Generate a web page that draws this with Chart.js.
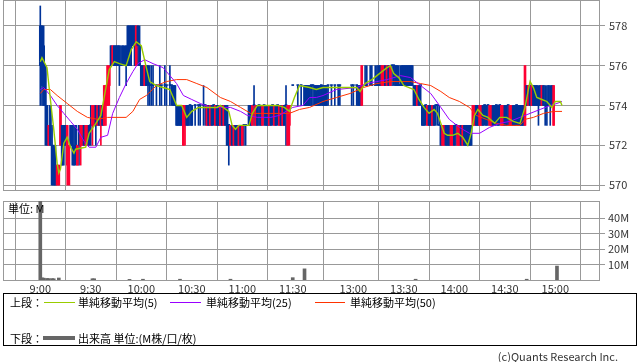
<!DOCTYPE html>
<html lang="ja">
<head>
<meta charset="utf-8">
<script src="https://cdn.jsdelivr.net/npm/chart.js@4.4.1/dist/chart.umd.min.js"></script>
<style>
  body { margin: 0; background: #fff; }
  #wrap { position: relative; width: 638px; height: 362px; overflow: hidden; font-family: 'Noto Sans CJK JP', 'Noto Sans', sans-serif; color: #000; }
  #price { position: absolute; left: 0; top: 0; }
  #vol { position: absolute; left: 0; top: 196px; }
  .txt { position: absolute; font-size: 11px; line-height: 14px; white-space: nowrap; }
  .swatch { position: absolute; }
  #legend { position: absolute; left: 3px; top: 293px; width: 634px; height: 53px; border: 1px solid #000; box-sizing: border-box; }
</style>
</head>
<body>
<div id="wrap">
  <canvas id="price" width="638" height="192"></canvas>
  <canvas id="vol" width="638" height="100"></canvas>
  <div class="txt" style="left:8px;top:201px;">単位: M</div>

  <div id="legend"></div>
  <div class="txt" style="left:10px;top:295px;">上段：</div>
  <div class="swatch" style="left:44px;top:302px;width:31px;height:1px;background:#99CC00;"></div>
  <div class="txt" style="left:78px;top:295px;">単純移動平均(5)</div>
  <div class="swatch" style="left:170px;top:302px;width:31px;height:1px;background:#9900FF;"></div>
  <div class="txt" style="left:206px;top:295px;">単純移動平均(25)</div>
  <div class="swatch" style="left:315px;top:302px;width:30px;height:1px;background:#FF3300;"></div>
  <div class="txt" style="left:350px;top:295px;">単純移動平均(50)</div>
  <div class="txt" style="left:10px;top:331px;">下段：</div>
  <div class="swatch" style="left:43px;top:336px;width:32px;height:4px;background:#666;"></div>
  <div class="txt" style="left:78px;top:331px;">出来高 単位:(M株/口/枚)</div>

  <div class="txt" style="right:20px;top:349px;color:#333;">(c)Quants Research Inc.</div>
</div>

<script>
// x axis is in "slots" (1 slot = 1 minute, lunch break squeezed)
const timeTickSlots = [0, 30, 60, 90, 120, 150, 186, 216, 246, 276, 306];
const timeTickLabels = ['9:00', '9:30', '10:00', '10:30', '11:00', '11:30', '13:00', '13:30', '14:00', '14:30', '15:00'];
const priceTicks = [570, 572, 574, 576, 578];
const volumeTicks = [10, 20, 30, 40];

// [slot, open, high, low, close]
const amCandles = [
  [0,578,579,574,576],[1,578,578,574,575],[2,577,578,574,574],[3,576,576,572,574],[4,574,574,572,572],
  [5,572,573,572,573],[6,574,574,572,572],[7,572,573,570,570],[8,572,572,570,570],[9,571,572,570,570],
  [10,570,571,570,571],[11,570,571,570,571],[12,572,574,572,574],[13,573,573,571,571],[14,573,573,571,572],
  [15,573,573,572,572],[16,571,573,570,573],[17,570,572,570,572],[18,573,573,572,572],[19,573,573,571,572],
  [20,572,573,571,571],[21,573,573,571,572],[22,571,572,571,572],[23,573,573,571,572],[24,572,573,571,573],
  [25,572,573,572,573],[26,573,573,572,572],[27,572,573,572,573],[28,572,573,572,573],[29,573,573,572,572],
  [30,573,574,572,573],[31,573,574,572,574],[32,573,574,573,574],[33,574,574,572,573],[34,573,574,573,574],
  [35,574,574,573,573],[36,573,574,572,574],[37,574,574,573,573],[38,573,575,573,575],[39,574,575,573,575],
  [40,574,576,574,576],[41,575,576,574,576],[42,577,577,576,576],[43,576,577,576,577],[44,577,577,576,576],
  [45,577,577,576,576],[46,577,577,576,576],[47,577,577,575,576],[48,576,577,576,576],[49,577,577,576,576],
  [50,576,577,576,576],[51,577,577,575,576],[52,578,578,576,576],[53,578,578,576,576],[54,578,578,576,577],
  [55,578,578,577,577],[56,578,578,576,577],[57,576,578,576,578],[58,578,578,576,577],[59,577,578,576,576],
  [60,576,576,575,575],[61,576,576,575,575],[62,575,576,575,576],[63,576,576,575,575],[64,576,576,574,575],
  [65,575,576,574,575],[66,575,576,574,575],[67,575,576,574,575],[69,575,575,574,575],[71,575,576,574,575],
  [72,575,575,574,575],[74,575,576,574,575],[75,575,575,574,575],[77,575,576,574,575],[78,575,575,574,575],
  [79,575,575,574,574],[80,575,575,574,574],[81,574,574,573,573],[82,574,574,573,573],[83,574,574,573,573],
  [84,574,574,573,573],[85,572,574,572,574],[86,573,574,572,574],[87,574,574,573,573],[88,574,574,573,573],
  [89,574,574,573,574],[90,574,574,573,573],[92,574,574,573,574],[94,574,574,573,574],[95,574,574,573,574],
  [97,574,575,573,574],[98,574,574,573,574],[99,573,574,573,574],[100,574,574,573,573],[101,573,574,573,574],
  [102,574,574,573,573],[103,574,574,573,574],[104,573,574,573,574],[105,574,574,573,573],[106,574,574,573,573],
  [107,573,574,573,574],[108,574,574,573,573],[109,573,574,573,574],[110,574,574,573,573],[111,574,574,572,572],
  [112,573,573,571,573],[113,572,573,572,573],[114,573,573,572,572],[115,572,573,572,573],[116,573,573,572,572],
  [117,573,573,572,572],[118,572,573,572,573],[119,573,573,572,572],[120,572,573,572,573],[121,573,573,572,573],
  [122,573,573,572,573],[124,574,574,573,573],[125,574,574,573,573],[126,573,574,573,574],[127,574,575,573,574],
  [128,573,574,573,574],[129,574,574,573,573],[130,574,574,573,574],[131,574,574,573,573],[132,573,574,573,574],
  [133,574,574,573,574],[134,574,574,573,573],[135,574,574,573,573],[136,573,574,573,574],[137,574,574,573,573],
  [138,574,574,573,574],[139,573,574,573,574],[140,574,574,573,573],[141,574,574,573,574],[142,573,574,573,574],
  [143,574,574,573,573],[144,573,574,573,574],[145,574,574,573,573],[146,574,575,572,574],[147,572,574,572,574],
  [148,573,574,572,574],[150,575,575,575,575]
];

const pmCandles = [
  [153,575,575,574,575],[155,575,575,574,575],[157,575,575,574,574],[158,575,575,574,574],[159,575,575,574,574],
  [160,575,575,574,574],[161,575,575,574,575],[162,575,575,574,575],[163,575,575,574,574],[164,575,575,574,574],
  [165,575,575,574,574],[166,575,575,574,574],[167,575,575,574,575],[168,575,575,574,574],[169,575,575,574,574],
  [170,575,575,574,574],[171,575,575,574,575],[173,575,575,574,575],[175,575,575,574,575],[177,575,575,574,575],
  [178,575,575,574,575],[185,575,575,574,575],[186,575,575,574,575],[188,575,575,574,575],[189,575,575,574,574],
  [190,575,575,574,574],[191,574,576,574,576],[193,575,576,575,575],[194,575,576,575,575],[196,575,576,575,575],
  [197,575,576,575,575],[199,575,576,575,575],[200,575,576,575,575],[201,576,576,575,575],[202,576,576,575,575],
  [203,575,576,575,576],[204,575,576,575,576],[205,576,576,575,575],[206,575,576,575,576],[207,576,576,575,575],
  [208,575,576,575,576],[209,576,576,575,576],[210,576,576,575,576],[211,576,576,575,575],[212,576,576,575,575],
  [213,575,576,575,575],[214,575,576,575,575],[215,576,576,575,575],[216,576,576,575,575],[217,576,576,575,575],
  [218,576,576,575,575],[219,576,576,575,575],[220,576,576,575,575],[221,576,576,575,575],[222,575,575,574,574],
  [223,575,575,574,574],[224,574,575,574,575],[225,575,575,574,574],[226,575,575,574,575],[227,574,574,573,573],
  [228,574,574,573,573],[229,574,574,573,574],[230,573,574,573,574],[231,574,574,573,573],[232,574,574,573,573],
  [233,573,574,573,574],[234,574,574,573,573],[235,574,574,573,574],[236,574,574,573,574],[237,573,574,573,573],
  [238,573,573,572,572],[239,572,573,572,573],[240,572,573,572,573],[241,573,573,572,572],[242,573,573,572,572],
  [243,573,573,572,572],[244,572,573,572,573],[245,572,573,572,573],[246,573,573,572,572],[247,573,573,572,573],
  [248,572,573,572,573],[249,572,573,572,573],[250,573,573,572,572],[251,572,573,572,573],[252,573,573,572,572],
  [253,573,573,572,572],[254,573,573,572,572],[255,573,573,572,572],[256,573,573,572,572],[257,573,574,573,574],
  [258,573,574,573,574],[259,574,574,573,573],[260,574,574,573,573],[261,573,574,573,574],[262,573,574,573,574],
  [263,574,574,573,573],[264,574,574,573,574],[265,574,574,573,573],[266,574,574,573,574],[267,573,574,573,574],
  [268,573,574,573,574],[269,574,574,573,573],[270,574,574,573,573],[271,574,574,573,574],[272,574,574,573,573],
  [273,574,574,573,574],[274,573,574,573,574],[275,573,574,573,574],[276,574,574,573,573],[277,574,574,573,573],
  [278,574,574,573,574],[279,573,574,573,574],[280,573,574,573,574],[281,574,574,573,573],[282,574,574,573,573],
  [283,574,574,573,574],[284,574,574,573,573],[285,574,574,573,573],[286,574,574,573,573],[287,574,574,573,573],
  [288,573,576,573,576],[289,575,575,574,574],[290,574,575,574,575],[291,575,575,574,574],[292,574,575,574,575],
  [293,575,575,574,574],[294,575,575,574,574],[295,575,575,574,574],[296,574,575,573,574],[297,575,575,574,574],
  [298,574,575,574,575],[299,575,575,574,574],[300,574,575,573,574],[301,574,575,573,574],[302,575,575,574,574],
  [303,574,575,573,574],[304,575,575,574,574],[305,573,575,573,575]
];

// moving averages: [slot, price]
const ma5 = [
  [0,576.2],[1,576.4],[4,575.9],[6,574.3],[8,572.8],[10,571.1],[11,570.6],[12,570.8],[14,572.1],[16,572.4],
  [18,571.9],[20,571.6],[21,571.8],[27,571.9],[29,572.6],[33,573.1],[36,573.5],[39,574.9],[41,575.8],[44,576.2],
  [47,576.1],[51,576.0],[54,576.8],[57,577.2],[60,577.0],[63,575.9],[65,575.2],[69,575.0],[73,574.9],[77,574.8],
  [81,574.0],[84,574.0],[87,573.4],[90,573.7],[94,573.9],[105,573.9],[107,574.0],[112,573.7],[114,573.0],[116,572.8],
  [118,573.0],[124,573.0],[126,573.6],[129,574.0],[137,574.0],[141,574.0],[145,573.9],[148,573.7],[151,574.4],[154,575.0],
  [160,574.9],[164,574.8],[168,574.9],[172,574.9],[188,574.9],[190,574.7],[193,575.1],[197,575.3],[200,575.5],[203,575.7],
  [206,575.9],[208,576.0],[210,575.6],[213,575.4],[216,575.0],[222,574.8],[225,574.3],[228,573.9],[231,573.6],[234,573.8],
  [236,573.6],[238,573.1],[240,572.6],[242,572.5],[245,572.5],[248,572.6],[251,572.4],[254,572.0],[256,572.6],[258,573.5],
  [260,573.8],[263,573.5],[266,573.4],[270,573.1],[273,573.4],[277,573.4],[281,573.2],[285,573.1],[288,573.9],[290,574.8],
  [291,575.2],[293,574.9],[295,574.4],[298,574.3],[301,574.2],[304,573.9],[306,574.2],[309,574.2],[310,574.0]
];
const ma25 = [
  [0,574.8],[2,574.9],[6,574.5],[10,574.0],[14,573.6],[18,573.2],[22,572.8],[26,572.2],[29,571.9],[33,571.9],
  [36,572.4],[40,572.5],[43,573.6],[47,574.4],[51,575.1],[55,575.7],[58,576.1],[62,576.3],[67,576.1],[73,575.9],
  [77,575.5],[81,575.1],[85,574.5],[90,574.3],[95,574.1],[101,573.9],[107,573.9],[113,573.9],[119,573.7],[123,573.5],
  [129,573.4],[137,573.4],[142,573.5],[146,573.7],[150,573.9],[156,574.0],[160,574.4],[164,574.4],[168,574.5],[176,574.8],
  [188,574.9],[194,575.1],[200,575.2],[206,575.3],[214,575.5],[220,575.4],[226,575.0],[232,574.6],[238,573.9],[243,573.3],
  [249,572.9],[255,572.6],[261,572.6],[267,572.9],[273,573.1],[279,573.2],[285,573.4],[291,573.6],[297,573.8],[303,574.0],
  [307,574.1],[310,574.2]
];
const ma50 = [
  [0,574.6],[2,574.8],[6,574.8],[10,574.5],[16,574.1],[22,573.7],[28,573.4],[34,573.3],[40,573.4],[45,573.4],
  [51,573.4],[55,573.7],[59,574.3],[63,574.5],[69,575.0],[75,575.2],[81,575.3],[87,575.3],[93,575.1],[99,574.9],
  [107,574.4],[113,574.2],[119,573.9],[125,573.6],[131,573.6],[137,573.6],[142,573.6],[148,573.6],[154,573.8],[160,573.9],
  [168,574.2],[176,574.4],[184,574.6],[192,574.9],[200,575.1],[208,575.2],[214,575.2],[220,575.2],[226,575.1],[232,575.0],
  [238,574.7],[243,574.4],[249,574.2],[255,573.9],[259,573.5],[265,573.3],[271,573.1],[277,573.0],[285,573.0],[288,573.3],
  [293,573.4],[299,573.6],[305,573.7],[310,573.7]
];

// volume in millions: [slot, value]
const volume = [
  [0,62],[1,1.4],[2,1.2],[4,1.0],[5,0.9],[7,0.9],[8,0.8],[11,1.3],[31,0.8],[32,0.8],
  [53,0.4],[61,0.5],[83,0.5],[113,0.5],[150,1.5],[157,7.2],[223,0.5],[289,0.5],[307,9.0]
];

const X_MIN = -22.16, X_MAX = 331.97;
const UP = '#FF0033', DOWN = '#003399', GRID = '#999999', TXT = '#333333';
const FONT = { family: "'Noto Sans CJK JP', 'Noto Sans', sans-serif", size: 11 };

const candles = amCandles.concat(pmCandles);
const candleColors = candles.map(c => c[4] > c[1] ? UP : DOWN);
const toXY = arr => arr.map(p => ({ x: p[0], y: p[1] }));

// plot frame (gray box around chart area)
const framePlugin = {
  id: 'frame',
  beforeDatasetsDraw(chart) {
    const a = chart.chartArea, ctx = chart.ctx;
    ctx.save();
    ctx.strokeStyle = GRID;
    ctx.lineWidth = 1;
    ctx.strokeRect(Math.round(a.left) + 0.5, Math.round(a.top) + 0.5, Math.round(a.right - a.left), Math.round(a.bottom - a.top));
    ctx.restore();
  }
};

// no extra room for half labels at the ends, keep chart area where we put it
const noEdgePadding = s => {
  s.paddingTop = 0; s.paddingBottom = 0; s.paddingLeft = 0; s.paddingRight = 0;
};

const timeAxis = (showLabels) => ({
  type: 'linear',
  min: X_MIN,
  max: X_MAX,
  offset: false,
  afterBuildTicks: s => { s.ticks = timeTickSlots.map(v => ({ value: v })); },
  afterFit: s => { s.height = showLabels ? 16 : 0; noEdgePadding(s); },
  grid: { color: GRID, drawTicks: false },
  border: { display: false },
  ticks: {
    display: showLabels,
    autoSkip: false,
    maxRotation: 0,
    padding: 2,
    color: TXT,
    font: FONT,
    callback: (v, i) => timeTickLabels[i]
  }
});

const lineDs = (arr, color, w) => ({
  type: 'line', data: toXY(arr), borderColor: color, borderWidth: w,
  pointRadius: 0, tension: 0, fill: false
});

new Chart(document.getElementById('price'), {
  type: 'bar',
  data: {
    datasets: [
      lineDs(ma5, '#99CC00', 1.4),
      lineDs(ma25, '#9900FF', 1),
      lineDs(ma50, '#FF3300', 1),
      {
        type: 'bar',
        data: candles.map(c => ({ x: c[0], y: [c[1], c[4]] })),
        backgroundColor: candleColors,
        barThickness: 2,
        minBarLength: 1,
        grouped: false
      },
      {
        type: 'bar',
        data: candles.map(c => ({ x: c[0], y: [c[3], c[2]] })),
        backgroundColor: candleColors,
        barThickness: 1,
        grouped: false
      }
    ]
  },
  options: {
    responsive: false,
    animation: false,
    devicePixelRatio: 1,
    events: [],
    layout: { padding: { left: 3, top: 0, right: 0, bottom: 2 } },
    plugins: { legend: { display: false }, tooltip: { enabled: false } },
    scales: {
      x: timeAxis(false),
      y: {
        position: 'right',
        min: 569.75,
        max: 579.3,
        afterBuildTicks: s => { s.ticks = priceTicks.map(v => ({ value: v })); },
        afterFit: s => { s.width = 39; noEdgePadding(s); },
        grid: { color: GRID, tickLength: 6 },
        border: { display: false },
        ticks: { color: TXT, font: FONT, padding: 4 }
      }
    }
  },
  plugins: [framePlugin]
});

new Chart(document.getElementById('vol'), {
  type: 'bar',
  data: {
    datasets: [{
      data: toXY(volume),
      backgroundColor: '#666666',
      barThickness: 3,
      grouped: false
    }]
  },
  options: {
    responsive: false,
    animation: false,
    devicePixelRatio: 1,
    events: [],
    layout: { padding: { left: 3, top: 5, right: 0, bottom: 0 } },
    plugins: { legend: { display: false }, tooltip: { enabled: false } },
    scales: {
      x: timeAxis(true),
      y: {
        position: 'right',
        min: 0,
        max: 51,
        afterBuildTicks: s => { s.ticks = volumeTicks.map(v => ({ value: v })); },
        afterFit: s => { s.width = 39; noEdgePadding(s); },
        grid: { color: GRID, tickLength: 6 },
        border: { display: false },
        ticks: { color: TXT, font: FONT, padding: 3, callback: v => v + 'M' }
      }
    }
  },
  plugins: [framePlugin]
});
</script>
</body>
</html>
